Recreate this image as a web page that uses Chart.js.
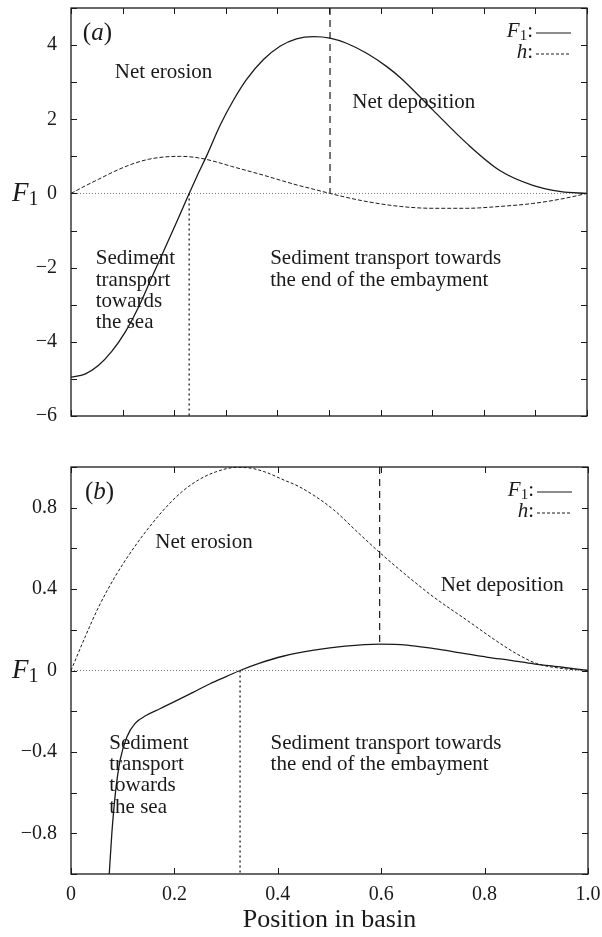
<!DOCTYPE html>
<html>
<head>
<meta charset="utf-8">
<script src="https://cdn.jsdelivr.net/npm/chart.js@4.4.1/dist/chart.umd.min.js"></script>
<style>
    html, body { margin: 0; padding: 0; background: #fff; }
    .panel { position: absolute; left: 0; width: 602px; }
    #panelA { top: 0; height: 440px; }
    #panelB { top: 440px; height: 497px; }
</style>
</head>
<body>
<div class="panel" id="panelA"><canvas id="chartA"></canvas></div>
<div class="panel" id="panelB"><canvas id="chartB"></canvas></div>
<script>
const SERIF = "'Liberation Serif', 'Times New Roman', serif";
const INK = '#1a1a1a';

// ---- panel (a) ----
const xF1A = [0, 0.027, 0.053, 0.079, 0.105, 0.13, 0.156, 0.182, 0.208, 0.229, 0.247, 0.263,
              0.289, 0.315, 0.34, 0.373, 0.405, 0.437, 0.47, 0.502, 0.534, 0.573, 0.612, 0.64,
              0.702, 0.767, 0.831, 0.895, 0.95, 1.0];
const yF1A = [-4.95, -4.87, -4.64, -4.26, -3.74, -3.09, -2.28, -1.48, -0.67, 0, 0.55, 1.02,
              1.84, 2.52, 3.07, 3.61, 3.97, 4.17, 4.23, 4.19, 4.05, 3.78, 3.42, 3.1,
              2.24, 1.35, 0.62, 0.22, 0.05, 0];
const xHA = [0, 0.027, 0.053, 0.085, 0.118, 0.15, 0.182, 0.212, 0.247, 0.279, 0.311, 0.34,
             0.376, 0.405, 0.44, 0.47, 0.502, 0.566, 0.638, 0.702, 0.767, 0.831, 0.895, 0.95, 1.0];
const yHA = [0, 0.2, 0.38, 0.6, 0.79, 0.92, 0.985, 1.0, 0.96, 0.86, 0.73, 0.62,
             0.48, 0.36, 0.22, 0.115, 0, -0.2, -0.35, -0.4, -0.4, -0.35, -0.27, -0.15, 0];
const xTicksA = [0, 0.1, 0.2, 0.3, 0.4, 0.5, 0.6, 0.7, 0.8, 0.9, 1.0];
const yTicksA = [-6, -5, -4, -3, -2, -1, 0, 1, 2, 3, 4, 5];
const zeroCrossA = 0.229;
const peakA = 0.502;

// ---- panel (b) ----
const xF1B = [0.0728, 0.074, 0.079, 0.086, 0.095, 0.108, 0.124, 0.146, 0.172, 0.205, 0.237,
              0.269, 0.301, 0.327, 0.365, 0.41, 0.47, 0.53, 0.597, 0.65, 0.702, 0.75, 0.806,
              0.85, 0.895, 0.95, 1.0];
const yF1B = [-1.05, -1.0, -0.8, -0.6, -0.44, -0.327, -0.26, -0.22, -0.188, -0.147, -0.106,
              -0.065, -0.029, 0, 0.036, 0.07, 0.1, 0.12, 0.13, 0.125, 0.107, 0.088, 0.065,
              0.05, 0.033, 0.016, 0];
const xHB = [0, 0.027, 0.053, 0.085, 0.118, 0.15, 0.182, 0.214, 0.247, 0.279, 0.32, 0.343,
             0.376, 0.408, 0.44, 0.47, 0.508, 0.55, 0.597, 0.65, 0.702, 0.767, 0.82, 0.86,
             0.9, 0.95, 1.0];
const yHB = [0, 0.163, 0.31, 0.46, 0.59, 0.7, 0.797, 0.877, 0.937, 0.975, 0.998, 0.996,
             0.975, 0.94, 0.905, 0.86, 0.79, 0.69, 0.58, 0.465, 0.36, 0.245, 0.15, 0.085,
             0.035, 0.01, 0];
const xTicksB = [0, 0.2, 0.4, 0.6, 0.8, 1.0];
const yTicksB = [-1, -0.8, -0.6, -0.4, -0.2, 0, 0.2, 0.4, 0.6, 0.8, 1.0];
const zeroCrossB = 0.327;
const peakB = 0.597;
const peakValB = 0.13;

const toPoints = (xs, ys) => xs.map((x, i) => ({ x: x, y: ys[i] }));

function curve(data, dash, width) {
    return {
        data: data,
        showLine: true,
        borderColor: INK,
        borderWidth: width,
        borderDash: dash,
        pointRadius: 0,
        cubicInterpolationMode: 'monotone',
        fill: false
    };
}

// draws italic/upright pieces one after another
function drawRich(ctx, parts, x, y, align) {
    let total = 0;
    parts.forEach(p => {
        ctx.font = (p.italic ? 'italic ' : '') + p.size + 'px ' + SERIF;
        p.w = ctx.measureText(p.t).width;
        total += p.w;
    });
    let cx = align === 'right' ? x - total : x;
    parts.forEach(p => {
        ctx.font = (p.italic ? 'italic ' : '') + p.size + 'px ' + SERIF;
        ctx.fillText(p.t, cx, y + (p.dy || 0));
        cx += p.w;
    });
}

const framePlugin = {
    id: 'frame',
    afterDatasetsDraw(chart, args, opts) {
        const { ctx, chartArea: a, scales: { x, y } } = chart;
        ctx.save();
        ctx.strokeStyle = INK;
        ctx.lineWidth = 1.3;
        ctx.setLineDash([]);
        ctx.strokeRect(a.left, a.top, a.right - a.left, a.bottom - a.top);
        const tl = 6;
        ctx.lineWidth = 1;
        ctx.beginPath();
        opts.xTicks.forEach(v => {
            const px = Math.round(x.getPixelForValue(v)) + 0.5;
            ctx.moveTo(px, a.top); ctx.lineTo(px, a.top + tl);
            ctx.moveTo(px, a.bottom); ctx.lineTo(px, a.bottom - tl);
        });
        opts.yTicks.forEach(v => {
            const py = Math.round(y.getPixelForValue(v)) + 0.5;
            ctx.moveTo(a.left, py); ctx.lineTo(a.left + tl, py);
            ctx.moveTo(a.right, py); ctx.lineTo(a.right - tl, py);
        });
        ctx.stroke();

        ctx.fillStyle = INK;
        ctx.textBaseline = 'middle';

        // panel letter
        const pl = opts.panel;
        drawRich(ctx, [
            { t: '(', size: 25 },
            { t: pl.letter, size: 25, italic: true },
            { t: ')', size: 25 }
        ], x.getPixelForValue(pl.x), y.getPixelForValue(pl.y));

        // region notes
        ctx.font = '21px ' + SERIF;
        ctx.textAlign = 'left';
        opts.notes.forEach(n => {
            const px = x.getPixelForValue(n.x);
            const py = y.getPixelForValue(n.y);
            n.lines.forEach((line, i) => ctx.fillText(line, px, py + i * 21.3));
        });

        // key, top right
        const kx = a.right - 54;
        const ky1 = a.top + 23;
        const ky2 = a.top + 44;
        drawRich(ctx, [
            { t: 'F', size: 21, italic: true },
            { t: '1', size: 15, dy: 5 },
            { t: ':', size: 21 }
        ], kx, ky1, 'right');
        drawRich(ctx, [
            { t: 'h', size: 21, italic: true },
            { t: ':', size: 21 }
        ], kx, ky2, 'right');
        ctx.lineWidth = 1;
        ctx.beginPath();
        ctx.moveTo(kx + 3, ky1 + 2); ctx.lineTo(kx + 38, ky1 + 2);
        ctx.stroke();
        ctx.setLineDash([3, 2]);
        ctx.beginPath();
        ctx.moveTo(kx + 3, ky2 + 2); ctx.lineTo(kx + 38, ky2 + 2);
        ctx.stroke();
        ctx.setLineDash([]);

        // axis symbol at the zero line
        drawRich(ctx, [
            { t: 'F', size: 27, italic: true },
            { t: '1', size: 20, dy: 6 }
        ], 12, y.getPixelForValue(0));
        ctx.restore();
    }
};

function makeChart(id, cfg) {
    return new Chart(document.getElementById(id), {
        type: 'scatter',
        data: {
            datasets: [
                // zero line
                {
                    data: [{ x: 0, y: 0 }, { x: 1, y: 0 }],
                    showLine: true, borderColor: '#555', borderWidth: 0.8,
                    borderDash: [1, 2], pointRadius: 0
                },
                {
                    data: [{ x: cfg.zeroCross, y: 0 }, { x: cfg.zeroCross, y: cfg.yMin }],
                    showLine: true, borderColor: INK, borderWidth: 1.3,
                    borderDash: [2, 3], pointRadius: 0
                },
                {
                    data: [{ x: cfg.peak, y: cfg.yMax }, { x: cfg.peak, y: cfg.peakVal }],
                    showLine: true, borderColor: INK, borderWidth: 1.2,
                    borderDash: [7, 5], pointRadius: 0
                },
                curve(cfg.h, cfg.hDash, 1),
                curve(cfg.f1, [], 1.3)
            ]
        },
        options: {
            responsive: true,
            maintainAspectRatio: false,
            animation: false,
            events: [],
            layout: { padding: cfg.padding },
            plugins: {
                legend: { display: false },
                tooltip: { enabled: false },
                frame: cfg.frame
            },
            scales: {
                x: {
                    type: 'linear',
                    min: 0, max: 1,
                    grid: { display: false },
                    border: { display: false },
                    ticks: {
                        display: cfg.xLabels,
                        stepSize: 0.2,
                        autoSkip: false,
                        padding: 1,
                        color: INK,
                        font: { family: SERIF, size: 20 },
                        callback: v => v === 0 ? '0' : v.toFixed(1)
                    },
                    title: {
                        display: cfg.xLabels,
                        text: 'Position in basin',
                        color: INK,
                        font: { family: SERIF, size: 26 },
                        padding: { top: 0, bottom: 1 }
                    },
                    afterFit: s => {
                        s.height = cfg.xHeight;
                        s.paddingLeft = 0;
                        s.paddingRight = 0;
                    }
                },
                y: {
                    min: cfg.yMin, max: cfg.yMax,
                    grid: { display: false },
                    border: { display: false },
                    afterBuildTicks: s => { s.ticks = cfg.frame.yTicks.map(v => ({ value: v })); },
                    ticks: {
                        autoSkip: false,
                        padding: 6,
                        color: INK,
                        font: { family: SERIF, size: 20 },
                        callback: cfg.yLabel
                    },
                    afterFit: s => {
                        s.width = 71;
                        s.paddingTop = 0;
                        s.paddingBottom = 0;
                    }
                }
            }
        },
        plugins: [framePlugin]
    });
}

makeChart('chartA', {
    f1: toPoints(xF1A, yF1A),
    h: toPoints(xHA, yHA),
    hDash: [4, 2],
    zeroCross: zeroCrossA,
    peak: peakA,
    peakVal: 0,
    yMin: -6, yMax: 5,
    xLabels: false,
    xHeight: 0,
    padding: { left: 0, right: 15, top: 8, bottom: 24 },
    yLabel: v => {
        if (v % 2 !== 0) return '';
        return v < 0 ? '\u2212' + (-v) : String(v);
    },
    frame: {
        xTicks: xTicksA,
        yTicks: yTicksA,
        panel: { letter: 'a', x: 0.023, y: 4.32 },
        notes: [
            { lines: ['Net erosion'], x: 0.085, y: 3.27 },
            { lines: ['Net deposition'], x: 0.545, y: 2.46 },
            { lines: ['Sediment', 'transport', 'towards', 'the sea'], x: 0.048, y: -1.76 },
            { lines: ['Sediment transport towards', 'the end of the embayment'], x: 0.386, y: -1.76 }
        ]
    }
});

makeChart('chartB', {
    f1: toPoints(xF1B, yF1B),
    h: toPoints(xHB, yHB),
    hDash: [3, 2],
    zeroCross: zeroCrossB,
    peak: peakB,
    peakVal: peakValB,
    yMin: -1, yMax: 1,
    xLabels: true,
    xHeight: 63,
    padding: { left: 0, right: 14, top: 27, bottom: 0 },
    yLabel: v => {
        const k = Math.round(v / 0.2);
        if (Math.abs(k) === 5 || k % 2 !== 0) return '';
        if (k === 0) return '0';
        return (v < 0 ? '\u2212' : '') + Math.abs(v).toFixed(1);
    },
    frame: {
        xTicks: xTicksB,
        yTicks: yTicksB,
        panel: { letter: 'b', x: 0.027, y: 0.874 },
        notes: [
            { lines: ['Net erosion'], x: 0.163, y: 0.628 },
            { lines: ['Net deposition'], x: 0.715, y: 0.417 },
            { lines: ['Sediment', 'transport', 'towards', 'the sea'], x: 0.074, y: -0.358 },
            { lines: ['Sediment transport towards', 'the end of the embayment'], x: 0.386, y: -0.358 }
        ]
    }
});
</script>
</body>
</html>
